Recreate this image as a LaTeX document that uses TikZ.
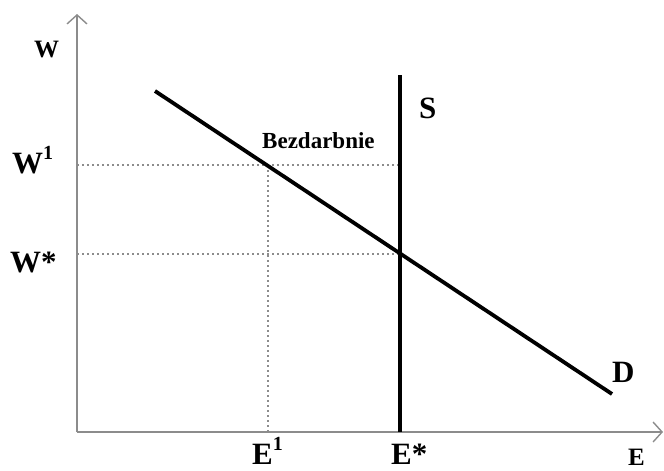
\documentclass[tikz,border=0pt]{standalone}
\usepackage{fontspec}
\setmainfont{Liberation Serif}
\usetikzlibrary{arrows.meta}
\definecolor{axisgray}{HTML}{8C8C8C}
\newcommand{\supone}{\raisebox{0.42em}{\fontsize{20}{20}\selectfont 1}}

\begin{document}
\begin{tikzpicture}[x=1pt, y=-1pt,
        axis/.style={axisgray, line width=1.6pt, -{Straight Barb[length=9pt, width=20pt, line width=1.4pt]}},
        curve/.style={line width=3.8pt},
        guide/.style={axisgray, line width=1.6pt, dash pattern=on 1.6pt off 3.4pt},
        lbl/.style={font=\bfseries\fontsize{31}{33}\selectfont, inner sep=0pt, anchor=base west},
        small/.style={font=\bfseries\fontsize{25}{27}\selectfont, inner sep=0pt, anchor=base west}]
      \useasboundingbox (0,0) rectangle (664,471);
      % axes
      \coordinate (o) at (77,432);
      \coordinate (ytop) at (77,14);
      \coordinate (xend) at (663,432);
      \draw[axis] (o) -- (ytop);
      \draw[axis] (o) -- (xend);
      % guides
      \coordinate (w1) at (77,165);
      \coordinate (ws) at (77,254);
      \coordinate (e1) at (268,432);
      \coordinate (a) at (268,165);
      \coordinate (b) at (400,165);
      \coordinate (eq) at (400,254);
      \draw[guide] (w1) -- (b);
      \draw[guide] (ws) -- (eq);
      \draw[guide] (a) -- (e1);
      % supply and demand
      \coordinate (stop) at (400,75);
      \coordinate (sbot) at (400,432);
      \coordinate (dtop) at (155,91);
      \coordinate (dbot) at (612,394);
      \draw[curve] (stop) -- (sbot);
      \draw[curve] (dtop) -- (dbot);
      % labels
      \node[small] (wlab) at (34,57) {W};
      \node[lbl] (w1lab) at (12,173) {W\supone};
      \node[lbl] (wslab) at (10,272) {W*};
      \node[small, font=\bfseries\fontsize{23}{25}\selectfont] (bez) at (262,148) {Bezdarbnie};
      \node[lbl] (slab) at (419,118) {S};
      \node[lbl] (dlab) at (612,382) {D};
      \node[lbl] (e1lab) at (252,464) {E\supone};
      \node[lbl] (eslab) at (391,464) {E*};
      \node[small] (elab) at (628,465) {E};
\end{tikzpicture}
\end{document}
